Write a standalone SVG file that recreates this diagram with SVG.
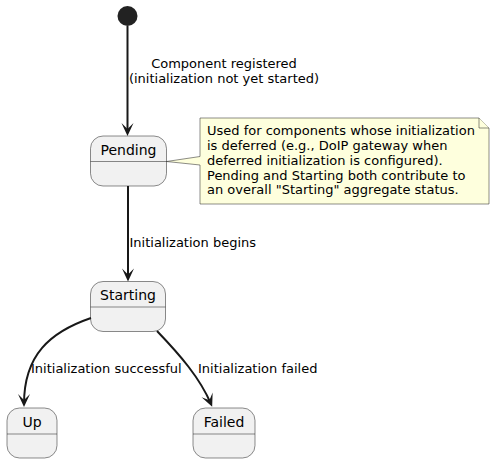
<svg xmlns="http://www.w3.org/2000/svg" width="495" height="463" viewBox="0 0 495 463">
<defs>
<style>
.state{fill:#F1F1F1;stroke:#181818;stroke-width:0.5}
.div{stroke:#181818;stroke-width:0.5}
.sname{font-family:"DejaVu Sans",sans-serif;font-size:14px;fill:#000;text-anchor:middle}
.lbl{font-family:"DejaVu Sans",sans-serif;font-size:13px;fill:#000}
.edge{fill:none;stroke:#181818;stroke-width:2}
.note{fill:#FEFFDD;stroke:#181818;stroke-width:0.5}
</style>
<marker id="arr" viewBox="-14 -7 15 14" refX="-3" refY="0" markerWidth="15" markerHeight="14" markerUnits="userSpaceOnUse" orient="auto">
<path d="M0,0 L-13,-6 L-7,0 L-13,6 Z" fill="#181818"/>
</marker>
</defs>
<g id="start">
<circle cx="127.5" cy="16" r="10" fill="#222222"/>
</g>
<g id="Pending">
<rect class="state" x="90.5" y="136" width="76" height="50" rx="12.5"/>
<line class="div" x1="90.5" y1="161.5" x2="166.5" y2="161.5"/>
<text class="sname" x="128.5" y="154.5">Pending</text>
</g>
<g id="Starting">
<rect class="state" x="90.5" y="281.5" width="75" height="50" rx="12.5"/>
<line class="div" x1="90.5" y1="307" x2="165.5" y2="307"/>
<text class="sname" x="128" y="300">Starting</text>
</g>
<g id="Up">
<rect class="state" x="7" y="408" width="50" height="50" rx="12.5"/>
<line class="div" x1="7" y1="434" x2="57" y2="434"/>
<text class="sname" x="32" y="426.5">Up</text>
</g>
<g id="Failed">
<rect class="state" x="193" y="408" width="62" height="50" rx="12.5"/>
<line class="div" x1="193" y1="434" x2="255" y2="434"/>
<text class="sname" x="224" y="426.5">Failed</text>
</g>
<g id="note">
<path class="note" d="M200,118 L479,118 L489,128 L489,204 L200,204 L200,165 L166.5,161.5 L200,156.5 Z"/>
<path class="note" d="M479,118 L479,128 L489,128"/>
<text class="lbl" x="207" y="135">Used for components whose initialization</text>
<text class="lbl" x="207" y="150">is deferred (e.g., DoIP gateway when</text>
<text class="lbl" x="207" y="164.8">deferred initialization is configured).</text>
<text class="lbl" x="207" y="179.6">Pending and Starting both contribute to</text>
<text class="lbl" x="207" y="194.4">an overall "Starting" aggregate status.</text>
</g>
<g id="connectors">
<path class="edge" d="M127.5,26 L127.5,133" marker-end="url(#arr)"/>
<text class="lbl" x="224" y="68" text-anchor="middle">Component registered</text>
<text class="lbl" x="224" y="83" text-anchor="middle">(initialization not yet started)</text>
<path class="edge" d="M128,186 L128,278.5" marker-end="url(#arr)"/>
<text class="lbl" x="129.5" y="246.5">Initialization begins</text>
<path class="edge" d="M91,318 C50,332 24,355 24,404" marker-end="url(#arr)"/>
<text class="lbl" x="31" y="373">Initialization successful</text>
<path class="edge" d="M157,331 C180,355 200,378 211,404" marker-end="url(#arr)"/>
<text class="lbl" x="198" y="373">Initialization failed</text>
</g>
</svg>
